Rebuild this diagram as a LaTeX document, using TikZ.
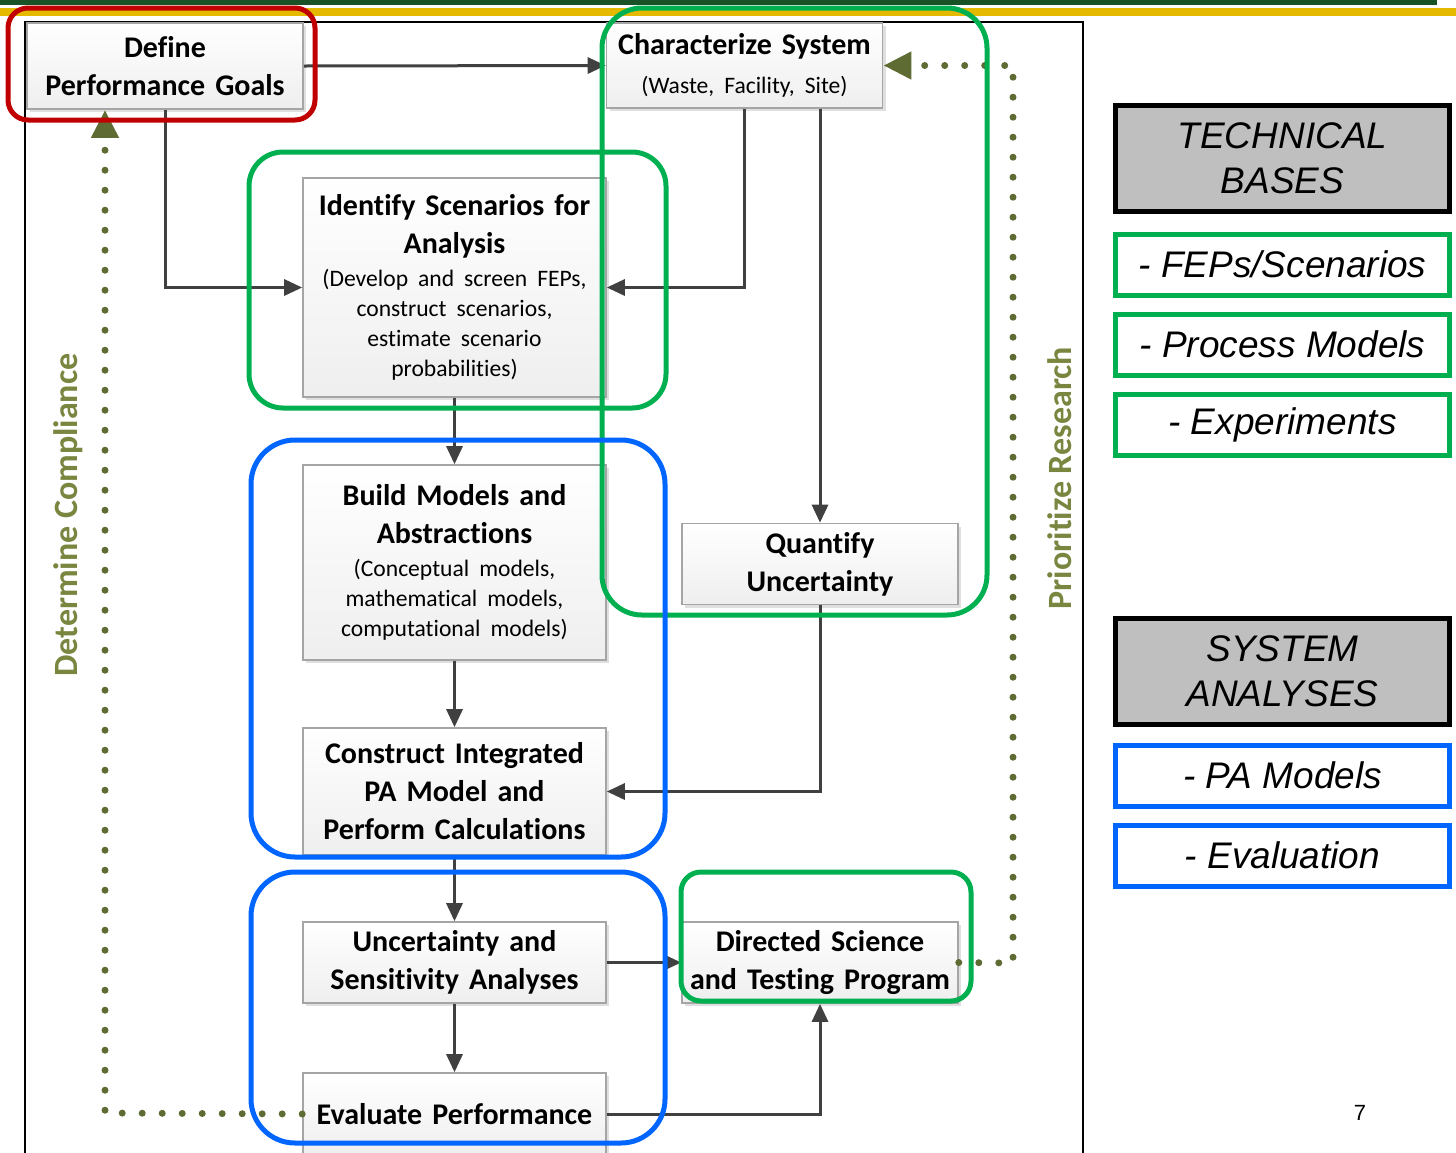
\documentclass[tikz,border=0pt]{standalone}
\usepackage{fontspec}
\setmainfont{Carlito}[Ligatures=NoCommon]
\newfontfamily\arialf{Liberation Sans}
\usetikzlibrary{arrows.meta,shadows,shadings,calc}
\definecolor{dkgreen}{RGB}{26,82,40}
\definecolor{goldc}{RGB}{228,185,0}
\definecolor{grn}{RGB}{0,176,80}
\definecolor{blu}{RGB}{0,102,255}
\definecolor{redc}{RGB}{192,0,0}
\definecolor{olv}{RGB}{94,108,52}
\definecolor{olvtxt}{RGB}{120,134,64}
\definecolor{connc}{RGB}{64,64,64}
\definecolor{bordg}{RGB}{165,165,165}
\definecolor{panelgray}{RGB}{191,191,191}
\begin{document}
\begin{tikzpicture}[x=0.5pt,y=-0.5pt,
  procbox/.style={draw=bordg, line width=0.8pt, top color=white, bottom color=gray!13,
    drop shadow={shadow xshift=1.5pt, shadow yshift=-1.5pt, opacity=0.25},
    inner xsep=1pt, inner ysep=1pt, align=center,
    font=\bfseries\fontsize{15}{19}\selectfont},
  widebox/.style={procbox, minimum width=151.5pt, text width=149pt},
  narrowbox/.style={procbox, minimum width=138pt, text width=136pt},
  connarrow/.style={draw=connc, line width=1.5pt, -{Triangle[length=9pt,width=8pt]}},
  dotarrow/.style={draw=olv, line width=3.5pt, line cap=round, dash pattern=on 0pt off 10pt,
    -{Triangle[length=14pt,width=13pt]}},
  grpframe/.style={line width=2.5pt, rounded corners=#1},
  sidelabel/.style={rotate=90, text=olvtxt, font=\bfseries\fontsize{17}{20}\selectfont},
  headpanel/.style={draw=black, line width=2.5pt, fill=panelgray, minimum width=167pt, minimum height=53pt,
    align=center, font=\arialf\itshape\fontsize{18.5}{22.5}\selectfont},
  itempanel/.style={draw=#1, line width=2.5pt, fill=white, minimum width=167pt, minimum height=30.5pt,
    align=center, font=\arialf\itshape\fontsize{18.5}{22.5}\selectfont}
]
\useasboundingbox (0,0) rectangle (1456,1152);
% top bars
\fill[dkgreen] (0,0) rectangle (1437,5);
\fill[goldc] (0,8) rectangle (1456,16);
% frame
\draw[black, line width=1pt] (25,1160) -- (25,22) -- (1083,22) -- (1083,1160);

% process boxes
\node[narrowbox, minimum height=43pt] (def) at (165,66) {Define\\Performance Goals};
\node[narrowbox, minimum height=42.5pt] (chr) at (744.5,65.5) {Characterize System\par
  {\mdseries\fontsize{11.8}{15}\selectfont\vspace{4.5pt}(Waste, Facility, Site)\par}};
\node[widebox, minimum height=109.5pt] (idn) at (454.5,287.5) {Identify Scenarios for\\Analysis\par
  {\mdseries\fontsize{11.8}{15}\selectfont\vspace{1.5pt}(Develop and screen FEPs,\\construct scenarios,\\estimate scenario\\probabilities)\par}};
\node[widebox, minimum height=97.5pt] (bld) at (454.5,562.5) {Build Models and\\Abstractions\par
  {\mdseries\fontsize{11.8}{15}\selectfont\vspace{1.5pt}(Conceptual models,\\mathematical models,\\computational models)\par}};
\node[widebox, minimum height=63.5pt] (cns) at (454.5,791.5) {Construct Integrated\\PA Model and\\Perform Calculations};
\node[widebox, minimum height=40.5pt] (unc) at (454.5,962.5) {Uncertainty and\\Sensitivity Analyses};
\node[widebox, minimum height=41pt] (evl) at (454.5,1114) {Evaluate Performance};
\node[narrowbox, minimum height=40.5pt] (qnt) at (820,564) {Quantify\\Uncertainty};
\node[narrowbox, minimum height=40.5pt] (dir) at (820,962.5) {Directed Science\\and Testing Program};

% helper coordinates
\coordinate (ca) at (744,0);
\coordinate (dl) at (105,1113);
\coordinate (dr) at (1013,963);

% connectors
\draw[connarrow] (def.east) -- (chr.west);
\draw[connarrow] (def.south) |- (idn.west);
\draw[connarrow] (chr.south -| ca) |- (idn.east);
\draw[connarrow] (chr.south -| qnt.north) -- (qnt.north);
\draw[connarrow] (idn.south) -- (bld.north);
\draw[connarrow] (bld.south) -- (cns.north);
\draw[connarrow] (qnt.south) |- (cns.east);
\draw[connarrow] (cns.south) -- (unc.north);
\draw[connarrow] (unc.east) -- (dir.west);
\draw[connarrow] (unc.south) -- (evl.north);
\draw[connarrow] (evl.east) -| (dir.south);

% dotted feedback
\draw[dotarrow] (dir.east) -- (dr) -- (dr |- chr.east) -- (chr.east);
\draw[dotarrow] (evl.west) -- (dl) -- (dl |- def.south);

\node[sidelabel] (dc) at (68,515) {Determine Compliance};
\node[sidelabel] (pr) at (1060,478) {Prioritize Research};

% group frames
\draw[grpframe=10pt, redc] (8,8) rectangle (315,120);
\draw[grpframe=20pt, grn] (602,8) rectangle (987,615);
\draw[grpframe=17pt, grn] (249,152) rectangle (666,408);
\draw[grpframe=22pt, blu] (251,440) rectangle (665,857);
\draw[grpframe=22pt, blu] (251,872) rectangle (665,1143);
\draw[grpframe=10pt, grn] (681,872) rectangle (971,1001);

% right panels
\node[headpanel] (tb) at (1282.5,158) {TECHNICAL\\BASES};
\node[itempanel=grn] (fep) at (1282.5,264.5) {- FEPs/Scenarios};
\node[itempanel=grn] (pm) at (1282.5,344.5) {- Process Models};
\node[itempanel=grn] (ex) at (1282.5,424.5) {- Experiments};
\node[headpanel] (sa) at (1282.5,671) {SYSTEM\\ANALYSES};
\node[itempanel=blu] (pa) at (1282.5,775.5) {- PA Models};
\node[itempanel=blu] (ev) at (1282.5,855.5) {- Evaluation};
\node[font=\arialf\fontsize{11}{13}\selectfont] (pg) at (1360,1113) {7};
\end{tikzpicture}
\end{document}
